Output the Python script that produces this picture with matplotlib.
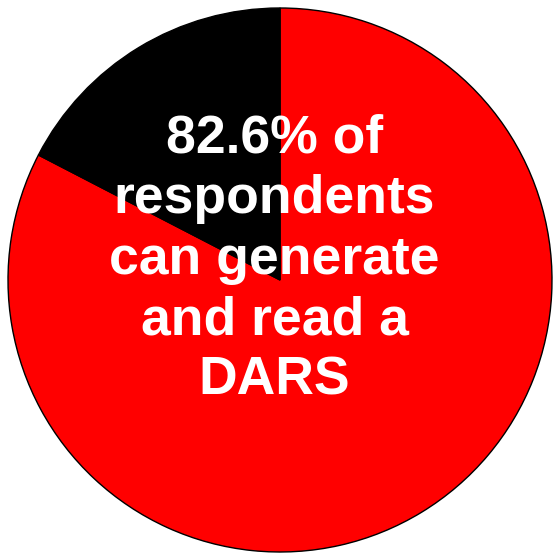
import matplotlib
matplotlib.use("Agg")
import matplotlib.pyplot as plt

labels = ["Can generate and read a DARS", "Cannot"]
values = [82.6, 17.4]
colors = ["#FF0000", "#000000"]
caption = "82.6% of\nrespondents\ncan generate\nand read a\nDARS"

fig = plt.figure(figsize=(5.54, 5.54), dpi=100)
ax = fig.add_axes([0, 0, 1, 1])
ax.pie(values, colors=colors, startangle=90, counterclock=False,
       radius=1.0, wedgeprops=dict(edgecolor="black", linewidth=1.0))
ax.set_xlim(-280/272, 274/272)
ax.set_ylim(-274/272, 280/272)
ax.set_aspect("equal")
ax.axis("off")
ax.text(-0.02, 0.075, caption, color="white", fontsize=38.5, fontweight="bold",
        family=["Liberation Sans", "DejaVu Sans"], ha="center", va="center",
        linespacing=1.27, multialignment="center")
fig.savefig("out.png", dpi=100)
